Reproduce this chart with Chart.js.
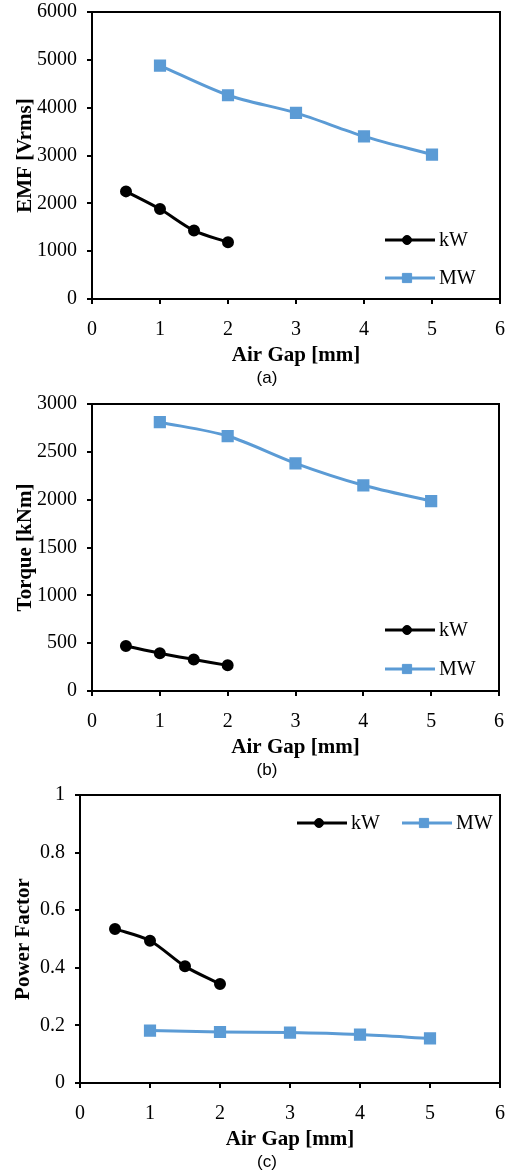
<!DOCTYPE html>
<html>
<head>
<meta charset="utf-8">
<script src="https://cdn.jsdelivr.net/npm/chart.js@4.4.1/dist/chart.umd.min.js"></script>
<style>
    body { margin: 0; background: #fff; width: 513px; height: 1174px; position: relative; overflow: hidden; }
    .box { position: absolute; left: 0; width: 513px; }
    .cap { position: absolute; left: 267px; transform: translateX(-50%); font: 17px "Liberation Sans", Arial, sans-serif; line-height: 18px; color: #000; }
</style>
</head>
<body>
<div class="box" style="top:0;height:390px"><canvas id="chart-a"></canvas></div>
<div class="box" style="top:390px;height:390px"><canvas id="chart-b"></canvas></div>
<div class="box" style="top:780px;height:394px"><canvas id="chart-c"></canvas></div>
<div class="cap" style="top:369px">(a)</div>
<div class="cap" style="top:761px">(b)</div>
<div class="cap" style="top:1153px">(c)</div>
<script>
// air gap values [mm]
const gapKW = [0.5, 1, 1.5, 2];
const gapMW = [1, 2, 3, 4, 5];

// (a) EMF [Vrms]
const emfKW = [2250, 1880, 1430, 1185];
const emfMW = [4880, 4260, 3890, 3400, 3020];

// (b) Torque [kNm]
const torqueKW = [470, 395, 330, 268];
const torqueMW = [2810, 2665, 2380, 2150, 1985];

// (c) Power factor
const pfKW = [0.535, 0.494, 0.405, 0.344];
const pfMW = [0.182, 0.177, 0.175, 0.168, 0.155];

const seriesNames = ['kW', 'MW'];
const xTicks = [0, 6, 1]; // min, max, step

const serif = "'Liberation Serif', 'Times New Roman', serif";

const toPoints = (xs, ys) => xs.map((x, i) => ({ x: x, y: ys[i] }));

// plain tick text, no thousands separator (6000, 0.2, 1)
const plain = (v) => String(+v.toFixed(2));

// let layout.padding alone decide where the plot box sits
const noScalePad = (s) => {
    s.paddingLeft = 0;
    s.paddingRight = 0;
    s.paddingTop = 0;
    s.paddingBottom = 0;
};

// box around the plot area + a legend drawn where the original has it
const framePlugin = {
    id: 'frame',
    afterDraw(chart, args, opts) {
        const ctx = chart.ctx;
        const a = chart.chartArea;
        ctx.save();
        ctx.strokeStyle = '#000';
        ctx.lineWidth = 2;
        ctx.strokeRect(a.left, a.top, a.right - a.left, a.bottom - a.top);

        (opts.legend || []).forEach((pos, i) => {
            const ds = chart.data.datasets[i];
            ctx.strokeStyle = ds.borderColor;
            ctx.lineWidth = 3;
            ctx.beginPath();
            ctx.moveTo(pos[0], pos[1]);
            ctx.lineTo(pos[0] + 50, pos[1]);
            ctx.stroke();
            ctx.fillStyle = ds.backgroundColor;
            ctx.strokeStyle = ds.borderColor;
            ctx.lineWidth = 1;
            Chart.helpers.drawPoint(ctx, { pointStyle: ds.pointStyle, radius: ds.pointRadius, rotation: 0, borderWidth: 1 }, pos[0] + 22, pos[1]);
            ctx.fillStyle = '#000';
            ctx.font = '20px ' + serif;
            ctx.textBaseline = 'middle';
            ctx.textAlign = 'left';
            ctx.fillText(ds.label, pos[0] + 54, pos[1] + 1);
        });
        ctx.restore();
    }
};

const newChart = (id, kw, mw, yMax, yStep, yTitle, yWidth, titlePad, padding, legend) => {
    return new Chart(document.getElementById(id).getContext('2d'), {
        type: 'line',
        data: {
            datasets: [{
                label: seriesNames[0],
                data: toPoints(gapKW, kw),
                borderColor: '#000',
                backgroundColor: '#000',
                borderWidth: 3,
                pointStyle: 'circle',
                pointRadius: 4.5,
                tension: 0.3
            }, {
                label: seriesNames[1],
                data: toPoints(gapMW, mw),
                borderColor: '#5B9BD5',
                backgroundColor: '#5B9BD5',
                borderWidth: 3,
                pointStyle: 'rect',
                pointRadius: 6.5,
                tension: 0.3
            }]
        },
        options: {
            responsive: true,
            maintainAspectRatio: false,
            animation: false,
            layout: { padding: padding },
            scales: {
                x: {
                    type: 'linear',
                    min: xTicks[0],
                    max: xTicks[1],
                    ticks: { stepSize: xTicks[2], color: '#000', padding: 14, callback: plain, font: { family: serif, size: 20 } },
                    grid: { drawOnChartArea: false, drawTicks: true, tickLength: 5, color: '#000', lineWidth: 2 },
                    border: { color: '#000', width: 2 },
                    title: { display: true, text: 'Air Gap [mm]', color: '#000', padding: { top: 0, bottom: 0 }, font: { family: serif, size: 21, weight: 'bold' } },
                    afterFit: (s) => { s.height = 69; noScalePad(s); }
                },
                y: {
                    min: 0,
                    max: yMax,
                    ticks: { stepSize: yStep, color: '#000', padding: 10, callback: plain, font: { family: serif, size: 20 } },
                    grid: { drawOnChartArea: false, drawTicks: true, tickLength: 5, color: '#000', lineWidth: 2 },
                    border: { color: '#000', width: 2 },
                    title: { display: true, text: yTitle, color: '#000', padding: { top: titlePad, bottom: 0 }, font: { family: serif, size: 21, weight: 'bold' } },
                    afterFit: (s) => { s.width = yWidth; noScalePad(s); }
                }
            },
            plugins: {
                legend: { display: false },
                tooltip: { enabled: false },
                frame: { legend: legend }
            }
        },
        plugins: [framePlugin]
    });
};

newChart('chart-a', emfKW, emfMW, 6000, 1000, 'EMF [Vrms]', 92, 13,
    { top: 12, right: 13, bottom: 22, left: 0 }, [[385, 240], [385, 278]]);
newChart('chart-b', torqueKW, torqueMW, 3000, 500, 'Torque [kNm]', 92, 13,
    { top: 14, right: 14, bottom: 20, left: 0 }, [[385, 240], [385, 279]]);
newChart('chart-c', pfKW, pfMW, 1, 0.2, 'Power Factor', 80, 11,
    { top: 15, right: 13, bottom: 22, left: 0 }, [[297, 43], [402, 43]]);
</script>
</body>
</html>
